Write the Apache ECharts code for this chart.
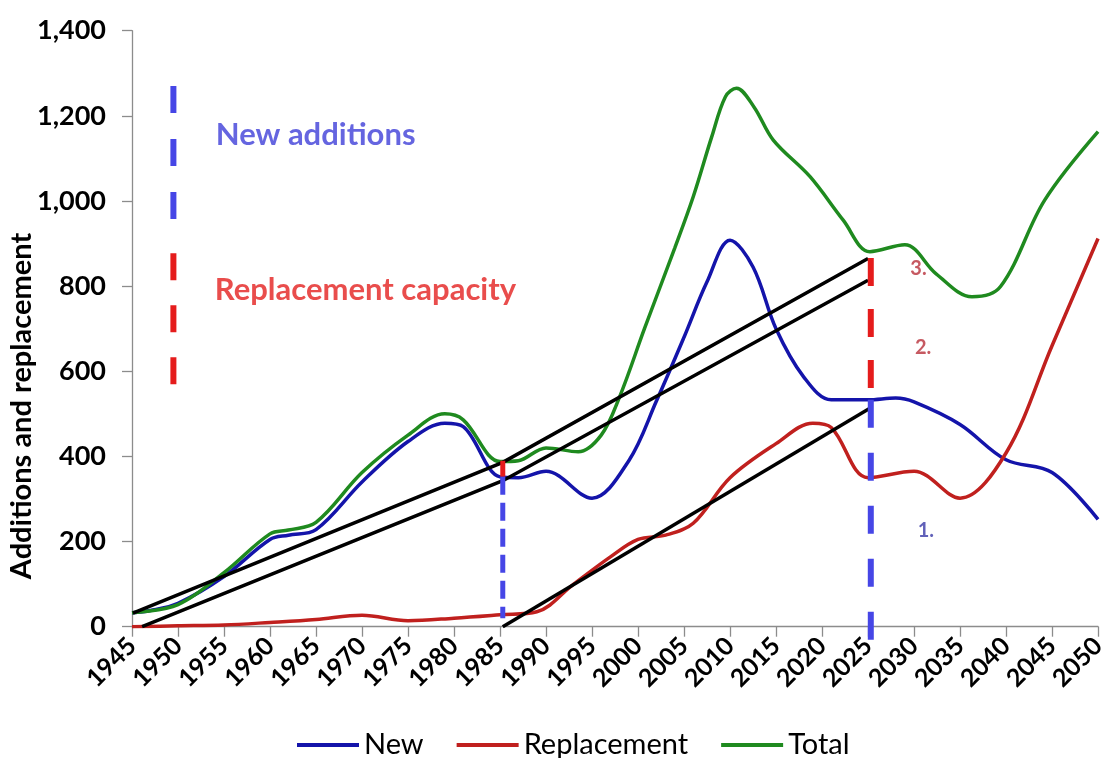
<!DOCTYPE html>
<html>
<head>
<meta charset="utf-8">
<script src="https://cdn.jsdelivr.net/npm/echarts@6/dist/echarts.min.js"></script>
<style>
html,body{margin:0;padding:0;background:#fff;}
#chart{width:1109px;height:758px;}
</style>
</head>
<body>
<div id="chart"></div>
<script>
// ---- Data ----
var newYears   = [1945,1947,1950,1955,1960,1962,1965,1970,1975,1979,1981,1985,1987,1990,1995,1999,2002,2005,2007.5,2010,2012.5,2015,2018,2021,2025,2028,2030,2035,2040,2045,2050];
var newValues  = [33,38,55,118,205,215,228,340,435,478,470,352,350,365,302,390,530,680,810,908,845,700,587,533,533,537,528,475,392,362,252];

var replYears  = [1945,1950,1955,1960,1965,1970,1975,1980,1985,1989,1993,1997,2000,2003,2006,2010,2015,2019,2021,2025,2030,2035,2040,2045,2050];
var replValues = [0,2,4,10,17,27,14,20,28,35,100,164,205,215,243,350,430,478,468,350,365,302,408,660,912];

var totYears   = [1945,1950,1955,1960,1962,1965,1970,1975,1979,1981,1985,1987,1990,1993.5,1996,1998,2000.7,2004,2006,2008,2009.5,2010.7,2012.6,2014.7,2018.7,2022.3,2025.2,2029,2032.4,2036.3,2039.4,2044.2,2050];
var totValues  = [33,52,127,218,227,245,362,450,500,486,388,390,420,411,450,540,700,890,1010,1150,1245,1265,1221,1143,1057,955,881,897,829,775,799,1002,1163];

var seriesNames = ['New','Replacement','Total'];
var yAxisTitle = 'Additions and replacement';

// annotation lines (polylines) in data units: [[x,y],...]
var blueDashLegend  = [[1949.5,1270],[1949.5,957]];
var redDashLegend   = [[1949.5,877],[1949.5,568]];
var redSeg1985      = [[1985.3,390],[1985.3,352]];
var blueDash1985    = [[1985.3,352],[1985.3,20]];
var redDash2025     = [[2025.3,866],[2025.3,533]];
var blueDash2025    = [[2025.3,533],[2025.3,-31]];
var trendUpper      = [[1945.1,32],[1985.3,386],[2025.0,865]];
var trendLower      = [[1946.1,0],[1985.3,343],[2025.0,814]];
var trendRepl       = [[1985.3,0],[2025.2,513]];

// annotation texts: [x, y, text, colour, size]
var notes = [
  [1954.1,1155,'New additions','#3f3fd8',31],
  [1954.0,791,'Replacement capacity','#e3201f',31],
  [2029.6,842,'3.','#b8303a',20],
  [2030.1,655,'2.','#b8303a',20],
  [2030.4,227,'1.','#3a3aa8',20]
];

var font = "Lato, 'Liberation Sans', Arial, sans-serif";

function pairs(xs, ys){ return xs.map(function(x,i){ return [x, ys[i]]; }); }

function mainLine(name, data, color){
  return {
    name: name, type: 'line', data: data, smooth: 0.35, symbol: 'none',
    lineStyle: { color: color, width: 3.5 }, itemStyle: { color: color },
    z: 3
  };
}
function annoLine(pts, color, width, dash, clip){
  return {
    type: 'line', data: pts, symbol: 'none', silent: true, clip: clip === false ? false : true,
    lineStyle: { color: color, width: width, type: dash || 'solid', cap: 'butt', join: 'miter' },
    z: 5, animation: false
  };
}

var series = [
  mainLine(seriesNames[0], pairs(newYears,newValues), '#1414aa'),
  mainLine(seriesNames[1], pairs(replYears,replValues), '#c0201e'),
  mainLine(seriesNames[2], pairs(totYears,totValues), '#1f8a1f'),
  annoLine(trendUpper, '#000', 3.5),
  annoLine(trendLower, '#000', 3.5),
  annoLine(trendRepl, '#000', 3.5),
  annoLine(blueDashLegend, '#4646e6', 6, [27,26]),
  annoLine(redDashLegend, '#e51c1c', 6, [27,25]),
  annoLine(redSeg1985, '#e51c1c', 5),
  annoLine(blueDash1985, '#4646e6', 5, [18,8]),
  annoLine(redDash2025, '#e51c1c', 6, [28,23]),
  annoLine(blueDash2025, '#4646e6', 6, [28,25], false),
  {
    type: 'scatter', symbolSize: 0, silent: true, z: 6, animation: false,
    data: notes.map(function(n){
      return { value: [n[0], n[1]], label: { show: true, position: [0,0], align: 'left', verticalAlign: 'middle',
        formatter: n[2], color: n[3], fontSize: n[4], fontWeight: 'bold', fontFamily: font } };
    })
  }
];

var chart = echarts.init(document.getElementById('chart'), null, { renderer: 'canvas' });
chart.setOption({
  animation: false,
  backgroundColor: '#fff',
  grid: { left: 132, right: 6.5, top: 30.7, bottom: 131.3, containLabel: false },
  legend: {
    data: seriesNames, left: 292, top: 724, icon: 'rect', itemWidth: 62, itemHeight: 4, itemGap: 33,
    textStyle: { fontSize: 29, lineHeight: 32, fontFamily: font, color: '#000' }
  },
  graphic: [{
    type: 'text', x: 22, y: 406, rotation: Math.PI/2,
    style: { text: yAxisTitle, fontSize: 29, fontWeight: 'bold', fontFamily: font, fill: '#000',
      align: 'center', verticalAlign: 'middle' }
  }],
  xAxis: {
    type: 'value', min: 1945, max: 2050, interval: 5,
    axisLine: { lineStyle: { color: '#8c8c8c', width: 1.3 } },
    axisTick: { show: true, length: 10, lineStyle: { color: '#8c8c8c', width: 1.3 } },
    splitLine: { show: false },
    axisLabel: { rotate: 45, fontSize: 25, fontWeight: 'bold', fontFamily: font, color: '#000', margin: 15,
      formatter: function(v){ return String(v); } }
  },
  yAxis: {
    type: 'value', min: 0, max: 1400, interval: 200,
    axisLine: { show: true, lineStyle: { color: '#8c8c8c', width: 1.3 } },
    axisTick: { show: true, length: 10, lineStyle: { color: '#8c8c8c', width: 1.3 } },
    splitLine: { show: false },
    axisLabel: { fontSize: 27, fontWeight: 'bold', fontFamily: font, color: '#000', margin: 26,
      formatter: function(v){ return v.toLocaleString('en-US'); } }
  },
  series: series
});
</script>
</body>
</html>
